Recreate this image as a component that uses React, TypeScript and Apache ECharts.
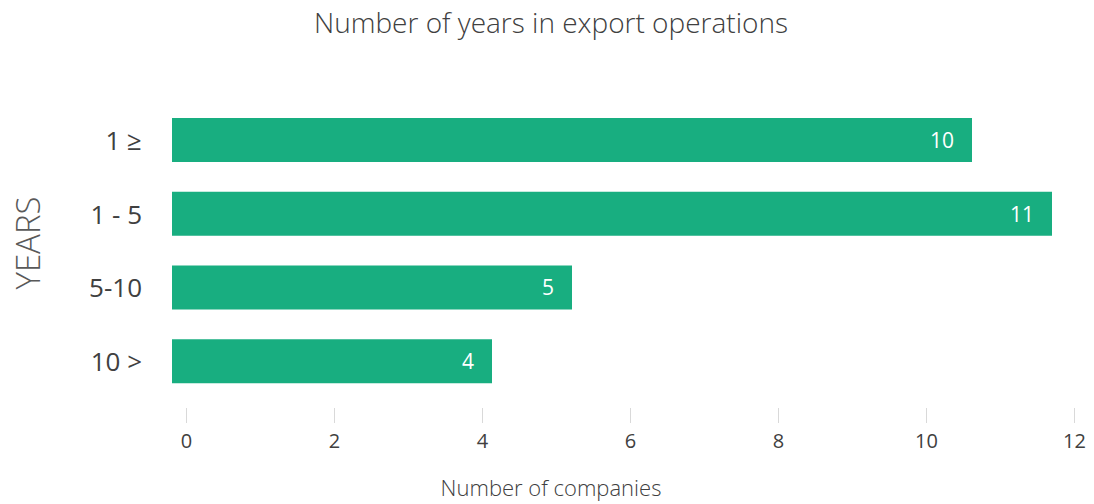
import React, { useEffect, useRef } from "react";
import * as echarts from "echarts";

const categories = ["1 ≥", "1 - 5", "5-10", "10 >"];
const companies = [10, 11, 5, 4];
const tickValues = [0, 2, 4, 6, 8, 10, 12];
const titleText = "Number of years in export operations";
const xAxisTitle = "Number of companies";
const yAxisTitle = "YEARS";

const FONT = "'Open Sans', sans-serif";
const BAR = "#18ae80";
const TEXT = "#404040";

export default function App() {
  const ref = useRef<HTMLDivElement>(null);
  useEffect(() => {
    if (!ref.current) return;
    const chart = echarts.init(ref.current, undefined, { renderer: "svg" });
    chart.setOption({
      animation: false,
      backgroundColor: "#ffffff",
      textStyle: { fontFamily: FONT },
      grid: [
        { left: 186.5, right: 19.5, top: 103, height: 295 },
        { left: 172, right: 2, top: 103, height: 295 },
      ],
      xAxis: [
        {
          type: "value",
          gridIndex: 0,
          min: tickValues[0],
          max: tickValues[tickValues.length - 1],
          interval: 2,
          offset: 10,
          axisLine: { show: false },
          axisTick: { show: true, length: 15, lineStyle: { color: "#d9d9d9" } },
          splitLine: { show: false },
          axisLabel: { fontSize: 20, color: TEXT, margin: 22, fontFamily: FONT },
        },
        {
          type: "value",
          gridIndex: 1,
          min: 0,
          max: 11.5,
          show: false,
          splitLine: { show: false },
        },
      ],
      yAxis: [
        {
          type: "category",
          gridIndex: 0,
          data: categories,
          inverse: true,
          show: false,
        },
        {
          type: "category",
          gridIndex: 1,
          data: categories,
          inverse: true,
          axisLine: { show: false },
          axisTick: { show: false },
          axisLabel: { fontSize: 26, color: TEXT, margin: 30, fontFamily: FONT },
        },
      ],
      graphic: [
        {
          type: "text",
          x: 551,
          y: 22,
          style: {
            text: titleText,
            fill: TEXT,
            font: `300 28px ${FONT}`,
            align: "center",
            verticalAlign: "middle",
          },
        },
        {
          type: "text",
          x: 551,
          y: 487,
          style: {
            text: xAxisTitle,
            fill: TEXT,
            font: `300 22px ${FONT}`,
            align: "center",
            verticalAlign: "middle",
          },
        },
        {
          type: "text",
          x: 27,
          y: 243,
          rotation: Math.PI / 2,
          style: {
            text: yAxisTitle,
            fill: "#595959",
            font: `300 33px ${FONT}`,
            align: "center",
            verticalAlign: "middle",
          },
        },
      ],
      series: [
        {
          type: "bar",
          xAxisIndex: 1,
          yAxisIndex: 1,
          data: companies,
          barWidth: 44,
          itemStyle: { color: BAR },
          label: {
            show: true,
            position: "insideRight",
            distance: 18,
            color: "#ffffff",
            fontSize: 21,
            fontFamily: FONT,
          },
        },
      ],
    });
    return () => chart.dispose();
  }, []);
  return (
    <div
      ref={ref}
      style={{ position: "absolute", left: 0, top: 0, width: 1094, height: 504 }}
    />
  );
}
